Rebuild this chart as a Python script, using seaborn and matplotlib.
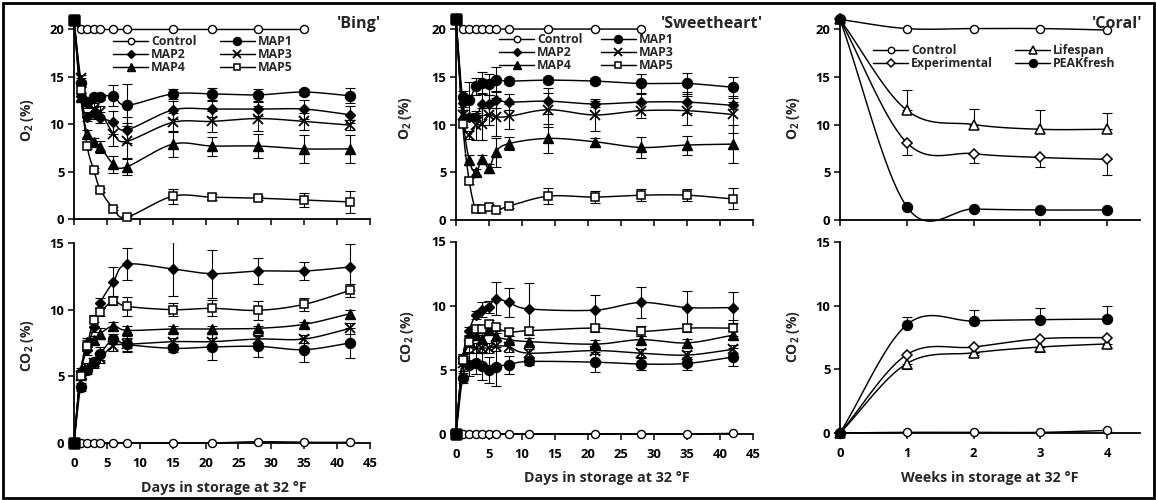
import numpy as np
import matplotlib
matplotlib.use("Agg")
import matplotlib.pyplot as plt
from matplotlib.lines import Line2D
from matplotlib.patches import Rectangle
import seaborn as sns

# ---------------------------------------------------------------- data
# 'Bing' (days in storage)
bing_o2_days = [0, 1, 2, 3, 4, 6, 8, 15, 21, 28, 35, 42]
bing_o2_control_days = [0, 1, 2, 3, 4, 6, 8, 15, 21, 28, 35]
bing_o2_control = [21, 20, 20, 20, 20, 20, 20, 20, 20, 20, 20]
bing_o2_map1 = [21, 14.4, 12.3, 12.9, 12.9, 13.0, 12.0, 13.2, 13.2, 13.1, 13.4, 13.0]
bing_o2_map1_err = [0, 0.5, 0.4, 0.3, 0.3, 1.1, 2.2, 0.5, 0.6, 0.6, 0.3, 0.8]
bing_o2_map2 = [21, 13.0, 10.8, 11.2, 10.7, 10.2, 9.4, 11.5, 11.6, 11.6, 11.6, 11.0]
bing_o2_map2_err = [0, 0.4, 0.5, 0.6, 0.6, 1.2, 1.4, 0.9, 0.8, 0.7, 1.0, 0.9]
bing_o2_map3 = [21, 14.9, 12.2, 11.6, 11.3, 9.0, 8.2, 10.2, 10.3, 10.6, 10.3, 9.9]
bing_o2_map3_err = [0, 0.3, 0.5, 0.6, 0.6, 1.3, 1.9, 1.0, 1.1, 1.3, 0.9, 0.5]
bing_o2_map4 = [21, 12.9, 9.0, 8.1, 7.6, 5.8, 5.5, 7.9, 7.7, 7.7, 7.4, 7.4]
bing_o2_map4_err = [0, 0.3, 0.4, 0.4, 0.6, 0.9, 0.9, 1.4, 1.0, 1.3, 1.5, 1.5]
bing_o2_map5 = [21, 13.6, 7.7, 5.2, 3.1, 1.1, 0.2, 2.4, 2.3, 2.2, 2.0, 1.8]
bing_o2_map5_err = [0, 0.3, 0.3, 0.2, 0.2, 0.2, 0.1, 0.8, 0.3, 0.2, 0.7, 1.2]

bing_co2_days = [0, 1, 2, 3, 4, 6, 8, 15, 21, 28, 35, 42]
bing_co2_control = [0, 0, 0, 0, 0, 0, 0, 0, 0, 0.1, 0.05, 0.05]
bing_co2_map1 = [0, 4.2, 5.5, 6.1, 6.7, 7.8, 7.4, 7.1, 7.2, 7.25, 7.0, 7.5]
bing_co2_map1_err = [0, 0.3, 0.3, 0.3, 0.5, 0.4, 0.6, 0.3, 1.0, 0.8, 0.9, 1.1]
bing_co2_map2 = [0, 5.4, 7.0, 8.7, 10.5, 12.1, 13.4, 13.05, 12.7, 12.9, 12.9, 13.2]
bing_co2_map2_err = [0, 0.2, 0.4, 0.4, 0.4, 1.1, 1.2, 2.0, 1.8, 1.0, 0.7, 1.7]
bing_co2_map3 = [0, 5.0, 5.7, 6.0, 6.4, 7.3, 7.4, 7.6, 7.6, 7.8, 7.8, 8.6]
bing_co2_map3_err = [0, 0.3, 0.3, 0.4, 0.4, 0.4, 0.5, 0.3, 0.3, 0.3, 0.3, 0.4]
bing_co2_map4 = [0, 5.2, 7.6, 7.75, 8.2, 8.8, 8.45, 8.55, 8.55, 8.6, 8.9, 9.7]
bing_co2_map4_err = [0, 0.2, 0.3, 0.3, 0.4, 0.3, 0.3, 0.2, 0.2, 0.2, 0.2, 0.3]
bing_co2_map5 = [0, 5.0, 7.3, 9.2, 9.8, 10.65, 10.25, 10.0, 10.1, 9.95, 10.4, 11.45]
bing_co2_map5_err = [0, 0.2, 0.4, 0.4, 0.3, 0.3, 0.7, 0.5, 0.6, 0.7, 0.5, 0.5]

# 'Sweetheart' (days in storage)
sw_o2_days = [0, 1, 2, 3, 4, 5, 6, 8, 14, 21, 28, 35, 42]
sw_o2_control_days = [0, 1, 2, 3, 4, 5, 6, 8, 14, 21, 28]
sw_o2_control = [21, 20, 20, 20, 20, 20, 20, 20, 20, 20, 20]
sw_o2_map1 = [21, 12.9, 12.6, 14.0, 14.4, 14.2, 14.7, 14.55, 14.65, 14.55, 14.3, 14.3, 13.9]
sw_o2_map1_err = [0, 0.6, 1.9, 0.9, 1.1, 1.1, 1.3, 0.3, 0.3, 0.3, 1.0, 1.1, 1.1]
sw_o2_map2 = [21, 12.3, 10.8, 10.8, 12.1, 12.1, 12.6, 12.35, 12.45, 12.15, 12.35, 12.35, 12.0]
sw_o2_map2_err = [0, 0.5, 0.3, 0.4, 1.1, 1.0, 0.9, 0.8, 1.4, 0.3, 0.8, 1.1, 0.4]
sw_o2_map3 = [21, 11.0, 8.9, 9.9, 10.05, 11.0, 10.8, 10.85, 11.55, 11.0, 11.45, 11.45, 11.05]
sw_o2_map3_err = [0, 0.5, 0.4, 1.5, 1.7, 1.0, 2.0, 1.3, 1.8, 1.7, 0.8, 1.5, 1.9]
sw_o2_map4 = [21, 11.0, 6.3, 5.0, 6.35, 5.4, 7.1, 8.0, 8.55, 8.2, 7.6, 7.85, 7.95]
sw_o2_map4_err = [0, 0.5, 0.5, 0.3, 0.5, 0.5, 1.5, 0.7, 1.5, 0.4, 1.1, 1.0, 2.0]
sw_o2_map5 = [21, 10.1, 4.1, 1.1, 1.2, 1.4, 1.0, 1.45, 2.5, 2.4, 2.6, 2.6, 2.2]
sw_o2_map5_err = [0, 0.4, 0.3, 0.2, 0.2, 0.3, 0.2, 0.2, 0.8, 0.6, 0.6, 0.6, 1.1]

sw_co2_days = [0, 1, 2, 3, 4, 5, 6, 8, 11, 21, 28, 35, 42]
sw_co2_control = [0, 0, 0, 0, 0, 0, 0, 0, 0, 0, 0, 0, 0.05]
sw_co2_map1 = [0, 4.35, 5.4, 5.5, 5.3, 5.0, 5.25, 5.4, 5.65, 5.6, 5.45, 5.5, 6.0]
sw_co2_map1_err = [0, 0.4, 0.9, 0.8, 1.1, 1.0, 1.5, 0.7, 0.3, 0.8, 0.5, 0.5, 0.7]
sw_co2_map2 = [0, 5.9, 8.05, 9.3, 9.7, 9.9, 10.55, 10.25, 9.75, 9.65, 10.25, 9.85, 9.85]
sw_co2_map2_err = [0, 0.3, 0.3, 0.3, 0.6, 0.5, 1.3, 1.1, 2.0, 1.2, 1.2, 1.3, 1.2]
sw_co2_map3 = [0, 5.5, 6.9, 6.7, 6.7, 6.7, 6.85, 6.8, 6.3, 6.5, 6.3, 6.15, 6.6]
sw_co2_map3_err = [0, 0.6, 0.5, 0.4, 0.4, 0.4, 0.4, 0.4, 0.3, 0.3, 0.3, 0.3, 0.3]
sw_co2_map4 = [0, 5.9, 7.35, 7.7, 7.4, 8.1, 7.6, 7.35, 7.2, 7.0, 7.35, 7.1, 7.7]
sw_co2_map4_err = [0, 0.3, 0.3, 0.3, 0.3, 0.3, 0.3, 0.3, 0.3, 0.3, 0.3, 0.3, 0.3]
sw_co2_map5 = [0, 5.8, 7.2, 8.15, 8.15, 8.6, 8.3, 7.95, 8.05, 8.25, 8.0, 8.25, 8.25]
sw_co2_map5_err = [0, 0.3, 0.4, 0.3, 0.3, 0.3, 0.3, 0.3, 0.3, 0.3, 0.4, 0.3, 0.6]

# 'Coral' (weeks in storage)
coral_weeks = [0, 1, 2, 3, 4]
coral_o2_control = [21, 20.05, 20.05, 20.05, 19.9]
coral_o2_lifespan = [21, 11.5, 10.0, 9.5, 9.5]
coral_o2_lifespan_err_up = [0, 2.1, 1.65, 2.0, 1.75]
coral_o2_experimental = [21, 8.1, 6.95, 6.55, 6.35]
coral_o2_experimental_err_down = [0, 1.25, 1.0, 1.05, 1.6]
coral_o2_peakfresh = [21, 1.4, 1.15, 1.05, 1.05]

coral_co2_control = [0, 0.05, 0.05, 0.05, 0.2]
coral_co2_lifespan = [0, 5.45, 6.3, 6.75, 7.0]
coral_co2_lifespan_err_down = [0, 0.45, 0.2, 0.35, 0.3]
coral_co2_experimental = [0, 6.15, 6.75, 7.4, 7.5]
coral_co2_peakfresh = [0, 8.5, 8.8, 8.9, 8.95]
coral_co2_peakfresh_err_up = [0, 0.6, 0.85, 0.95, 1.0]

map_names = ["Control", "MAP1", "MAP2", "MAP3", "MAP4", "MAP5"]
coral_names = ["Control", "Lifespan", "Experimental", "PEAKfresh"]

# ---------------------------------------------------------------- style
W, H = 1156, 500
sns.set_theme(style="ticks")
plt.rcParams["font.family"] = ["Open Sans", "DejaVu Sans"]
plt.rcParams["font.weight"] = "bold"
plt.rcParams["axes.labelweight"] = "bold"
plt.rcParams["mathtext.default"] = "regular"

MARKERS = {
    "Control": dict(marker="o", mfc="white", ms=5.8, mew=1.0),
    "MAP1": dict(marker="o", mfc="black", ms=7.2, mew=1.0),
    "MAP2": dict(marker="D", mfc="black", ms=5.0, mew=1.0),
    "MAP3": dict(marker="x", mfc="none", ms=6.5, mew=1.3),
    "MAP4": dict(marker="^", mfc="black", ms=6.8, mew=1.0),
    "MAP5": dict(marker="s", mfc="white", ms=6.0, mew=1.1),
    "Lifespan": dict(marker="^", mfc="white", ms=6.8, mew=1.1),
    "Experimental": dict(marker="D", mfc="white", ms=4.6, mew=1.1),
    "PEAKfresh": dict(marker="o", mfc="black", ms=7.2, mew=1.0),
}

TICK_FS = 9.4
LEGEND_FS = 8.8
YLABEL_FS = 10.0
XLABEL_FS = 10.3
TITLE_FS = 11.6
LINE_W = 1.05


def smooth_path(x, y, n=24):
    """Catmull-Rom curve through the measured points (spreadsheet-style smoothing)."""
    pts = np.column_stack([np.asarray(x, float), np.asarray(y, float)])
    if len(pts) < 3:
        return pts
    ext = np.vstack([2 * pts[0] - pts[1], pts, 2 * pts[-1] - pts[-2]])
    t = np.linspace(0, 1, n, endpoint=False)[:, None]
    h00 = 2 * t**3 - 3 * t**2 + 1
    h10 = t**3 - 2 * t**2 + t
    h01 = -2 * t**3 + 3 * t**2
    h11 = t**3 - t**2
    segs = []
    for i in range(1, len(ext) - 2):
        p0, p1, p2, p3 = ext[i - 1], ext[i], ext[i + 1], ext[i + 2]
        m1 = (p2 - p0) / 2.0
        m2 = (p3 - p1) / 2.0
        segs.append(h00 * p1 + h10 * m1 + h01 * p2 + h11 * m2)
    segs.append(pts[-1][None, :])
    return np.vstack(segs)


def add_axes_px(x0, x1, ytop, ybot):
    return fig.add_axes([x0 / W, 1 - ybot / H, (x1 - x0) / W, (ybot - ytop) / H])


def style_axes(ax, xlim, xticks, ylim, yticks, show_xlabels):
    ax.set_xlim(*xlim)
    ax.set_ylim(*ylim)
    ax.set_xticks(xticks)
    ax.set_yticks(yticks)
    for side in ("top", "right"):
        ax.spines[side].set_visible(False)
    for side in ("left", "bottom"):
        ax.spines[side].set_linewidth(1.3)
        ax.spines[side].set_color("black")
    ax.tick_params(axis="both", direction="out", length=4, width=1.1,
                   colors="black", labelsize=TICK_FS)
    ax.tick_params(axis="y", pad=3.0)
    ax.tick_params(axis="x", pad=6.0, labelbottom=show_xlabels)
    for lab in ax.get_xticklabels() + ax.get_yticklabels():
        lab.set_fontweight("bold")
    ax.set_facecolor("none")
    ax.grid(False)


def draw_series(ax, x, y, name, z, err=None, err_dir="both", first_square=False):
    x = np.asarray(x, float)
    y = np.asarray(y, float)
    sm = smooth_path(x, y)
    sns.lineplot(x=sm[:, 0], y=sm[:, 1], sort=False, estimator=None, ax=ax,
                 color="black", lw=LINE_W, zorder=z + 1, clip_on=False)
    if err is not None:
        e = np.asarray(err, float)
        keep = e > 0
        lo = e[keep] if err_dir in ("both", "down") else np.zeros(keep.sum())
        hi = e[keep] if err_dir in ("both", "up") else np.zeros(keep.sum())
        ax.errorbar(x[keep], y[keep], yerr=[lo, hi], fmt="none", ecolor="black",
                    elinewidth=0.8, capsize=3.6, capthick=0.8, zorder=z)
    st = MARKERS[name]
    start = 1 if first_square else 0
    ax.plot(x[start:], y[start:], ls="none", marker=st["marker"], ms=st["ms"],
            mfc=st["mfc"], mec="black", mew=st["mew"], zorder=z + 2, clip_on=False)
    if first_square:
        ax.plot(x[:1], y[:1], ls="none", marker="s", ms=7, mfc="black", mec="black",
                zorder=60, clip_on=False)


def legend_handle(name):
    st = MARKERS[name]
    return Line2D([0], [0], color="black", lw=LINE_W, marker=st["marker"], ms=st["ms"] * 0.8,
                  mfc=st["mfc"], mec="black", mew=st["mew"])


def add_legend(ax, order, x_px, y_px, colsp):
    handles = [legend_handle(n) for n in order]
    ax.legend(handles, order, ncol=2, loc="upper left",
              bbox_to_anchor=(x_px / W, 1 - y_px / H), bbox_transform=fig.transFigure,
              frameon=False, borderaxespad=0, borderpad=0,
              handlelength=2.9, handletextpad=0.2, labelspacing=0.02,
              columnspacing=colsp, prop={"weight": "bold", "size": LEGEND_FS,
                                         "family": ["Open Sans", "DejaVu Sans"]})


fig = plt.figure(figsize=(W / 100, H / 100), dpi=100)
fig.patch.set_facecolor("white")

# ---------------------------------------------------------------- 'Bing'
ax = add_axes_px(74, 370, 20, 219)
style_axes(ax, (0, 45), range(0, 50, 5), (0, 21), range(0, 25, 5), False)
draw_series(ax, bing_o2_control_days, bing_o2_control, "Control", 2, first_square=True)
bing_o2 = [(bing_o2_map1, bing_o2_map1_err), (bing_o2_map2, bing_o2_map2_err),
           (bing_o2_map3, bing_o2_map3_err), (bing_o2_map4, bing_o2_map4_err),
           (bing_o2_map5, bing_o2_map5_err)]
for k, (vals, err) in enumerate(bing_o2):
    draw_series(ax, bing_o2_days, vals, map_names[k + 1], 5 + 4 * k, err, first_square=True)
add_legend(ax, ["Control", "MAP2", "MAP4", "MAP1", "MAP3", "MAP5"], 113, 35, 1.9)

ax = add_axes_px(74, 370, 243, 443)
style_axes(ax, (0, 45), range(0, 50, 5), (0, 15), range(0, 20, 5), True)
draw_series(ax, bing_co2_days, bing_co2_control, "Control", 2, first_square=True)
bing_co2 = [(bing_co2_map1, bing_co2_map1_err), (bing_co2_map2, bing_co2_map2_err),
            (bing_co2_map3, bing_co2_map3_err), (bing_co2_map4, bing_co2_map4_err),
            (bing_co2_map5, bing_co2_map5_err)]
for k, (vals, err) in enumerate(bing_co2):
    draw_series(ax, bing_co2_days, vals, map_names[k + 1], 5 + 4 * k, err, first_square=True)

# ---------------------------------------------------------------- 'Sweetheart'
ax = add_axes_px(456, 753, 19.5, 220)
style_axes(ax, (0, 45), range(0, 50, 5), (0, 21), range(0, 25, 5), False)
draw_series(ax, sw_o2_control_days, sw_o2_control, "Control", 2, first_square=True)
sw_o2 = [(sw_o2_map1, sw_o2_map1_err), (sw_o2_map2, sw_o2_map2_err),
         (sw_o2_map3, sw_o2_map3_err), (sw_o2_map4, sw_o2_map4_err),
         (sw_o2_map5, sw_o2_map5_err)]
for k, (vals, err) in enumerate(sw_o2):
    draw_series(ax, sw_o2_days, vals, map_names[k + 1], 5 + 4 * k, err, first_square=True)
add_legend(ax, ["Control", "MAP2", "MAP4", "MAP1", "MAP3", "MAP5"], 499, 33, 1.5)

ax = add_axes_px(456, 753, 241.5, 434)
style_axes(ax, (0, 45), range(0, 50, 5), (0, 15), range(0, 20, 5), True)
draw_series(ax, sw_co2_days, sw_co2_control, "Control", 2, first_square=True)
sw_co2 = [(sw_co2_map1, sw_co2_map1_err), (sw_co2_map2, sw_co2_map2_err),
          (sw_co2_map3, sw_co2_map3_err), (sw_co2_map4, sw_co2_map4_err),
          (sw_co2_map5, sw_co2_map5_err)]
for k, (vals, err) in enumerate(sw_co2):
    draw_series(ax, sw_co2_days, vals, map_names[k + 1], 5 + 4 * k, err, first_square=True)

# ---------------------------------------------------------------- 'Coral'
ax = add_axes_px(840, 1140.4, 19.5, 220)
style_axes(ax, (0, 4.5), range(0, 5), (0, 21), range(0, 25, 5), False)
draw_series(ax, coral_weeks, coral_o2_control, "Control", 2)
draw_series(ax, coral_weeks, coral_o2_lifespan, "Lifespan", 6, coral_o2_lifespan_err_up, "up")
draw_series(ax, coral_weeks, coral_o2_experimental, "Experimental", 10,
            coral_o2_experimental_err_down, "down")
draw_series(ax, coral_weeks, coral_o2_peakfresh, "PEAKfresh", 14)
add_legend(ax, ["Control", "Experimental", "Lifespan", "PEAKfresh"], 873, 44, 1.8)

ax = add_axes_px(840, 1140.4, 242, 433)
style_axes(ax, (0, 4.5), range(0, 5), (0, 15), range(0, 20, 5), True)
draw_series(ax, coral_weeks, coral_co2_control, "Control", 2)
draw_series(ax, coral_weeks, coral_co2_lifespan, "Lifespan", 6, coral_co2_lifespan_err_down, "down")
draw_series(ax, coral_weeks, coral_co2_experimental, "Experimental", 10)
draw_series(ax, coral_weeks, coral_co2_peakfresh, "PEAKfresh", 14, coral_co2_peakfresh_err_up, "up")

# ---------------------------------------------------------------- labels
o2_label = r"O$_2$ (%)"
co2_label = r"CO$_2$ (%)"
for x_px, y_px, txt in [(27, 120, o2_label), (27, 346, co2_label),
                        (405, 118, o2_label), (408, 337, co2_label),
                        (793, 118, o2_label), (793, 337, co2_label)]:
    fig.text(x_px / W, 1 - y_px / H, txt, rotation=90, ha="center", va="center",
             fontsize=YLABEL_FS, fontweight="bold")

for x_px, y_px, txt in [(224, 488, "Days in storage at 32 °F"),
                        (607, 478, "Days in storage at 32 °F"),
                        (990, 478, "Weeks in storage at 32 °F")]:
    fig.text(x_px / W, 1 - y_px / H, txt, ha="center", va="center",
             fontsize=XLABEL_FS, fontweight="bold")

for x_px, txt in [(381, "'Bing'"), (763, "'Sweetheart'"), (1142, "'Coral'")]:
    fig.text(x_px / W, 1 - 24 / H, txt, ha="right", va="center",
             fontsize=TITLE_FS, fontweight="bold", zorder=100)

# outer frame
fig.add_artist(Rectangle((2.5 / W, 2.5 / H), (W - 5) / W, (H - 5) / H,
                         transform=fig.transFigure, fill=False, lw=2.0,
                         edgecolor="black"))

fig.savefig("out.png", dpi=100, facecolor="white")
